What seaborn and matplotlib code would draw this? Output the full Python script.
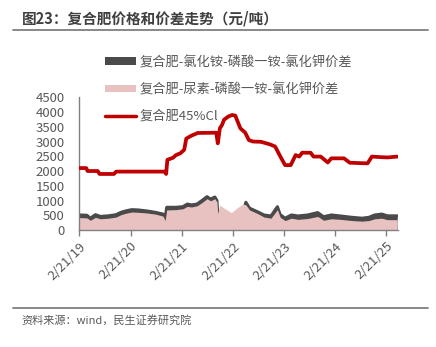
import matplotlib
matplotlib.use("Agg")
import matplotlib.pyplot as plt
from matplotlib.patches import Patch
from matplotlib.lines import Line2D
import pandas as pd
import seaborn as sns

# 复合肥45%Cl 价格（元/吨）
price_dates = [
    "2019-02-21", "2019-04-10", "2019-04-20", "2019-07-01", "2019-07-15", "2019-10-25",
    "2019-11-10", "2020-10-20", "2020-11-01", "2020-11-10", "2020-12-20", "2021-01-10",
    "2021-02-10", "2021-03-10", "2021-03-25", "2021-05-01", "2021-06-15", "2021-10-25",
    "2021-11-05", "2021-11-20", "2021-12-05", "2021-12-20", "2022-01-20", "2022-02-15",
    "2022-03-10", "2022-04-15", "2022-05-20", "2022-06-15", "2022-07-15", "2022-09-10",
    "2022-11-15", "2022-12-20", "2023-01-25", "2023-03-01", "2023-04-10", "2023-05-15",
    "2023-06-10", "2023-07-01", "2023-08-30", "2023-09-20", "2023-11-10", "2023-12-31",
    "2024-01-25", "2024-04-25", "2024-06-05", "2024-10-10", "2024-11-10", "2025-01-15",
    "2025-03-01", "2025-05-10",
]
price_values = [
    2100, 2100, 2000, 2000, 1900, 1900,
    1980, 1980, 1900, 2380, 2450, 2540,
    2600, 2720, 3100, 3200, 3290, 3300,
    2940, 3450, 3560, 3740, 3850, 3900,
    3880, 3450, 3300, 3050, 3000, 2990,
    2900, 2830, 2500, 2200, 2200, 2540,
    2490, 2620, 2620, 2490, 2490, 2290,
    2430, 2430, 2280, 2260, 2490, 2470,
    2460, 2490,
]

# 价差（元/吨）
spread_dates = [
    "2019-02-21", "2019-04-15", "2019-05-10", "2019-06-15", "2019-07-20", "2019-09-15",
    "2019-11-10", "2019-12-15", "2020-01-20", "2020-03-01", "2020-04-15", "2020-06-10",
    "2020-08-15", "2020-10-10", "2020-10-25", "2020-11-05", "2021-01-10", "2021-03-01",
    "2021-04-01", "2021-05-01", "2021-06-10", "2021-07-15", "2021-08-20", "2021-09-15",
    "2021-10-15", "2021-10-30", "2021-11-05", "2021-11-20", "2021-12-20", "2022-02-10",
    "2022-03-20", "2022-05-05", "2022-05-25", "2022-06-20", "2022-08-15", "2022-10-01",
    "2022-11-20", "2023-01-05", "2023-01-25", "2023-03-01", "2023-04-15", "2023-06-01",
    "2023-08-10", "2023-10-20", "2023-12-01", "2024-01-25", "2024-04-01", "2024-06-20",
    "2024-09-01", "2024-10-20", "2024-12-01", "2025-01-20", "2025-03-01", "2025-05-10",
]
spread_nh4cl = [
    510, 500, 400, 520, 460, 480,
    520, 600, 650, 690, 680, 650,
    600, 540, 380, 770, 770, 790,
    880, 850, 880, 1000, 1130, 1050,
    1120, 1000, 560, 600, 500, 450,
    550, 650, 940, 740, 620, 510,
    475, 790, 520, 400, 510, 475,
    510, 590, 450, 510, 475, 430,
    400, 430, 510, 540, 480, 480,
]
spread_urea = [
    420, 410, 330, 430, 380, 400,
    440, 520, 570, 610, 600, 580,
    540, 470, 320, 680, 690, 720,
    800, 780, 820, 930, 1060, 990,
    1060, 950, 560, 850, 740, 590,
    740, 880, 850, 680, 560, 440,
    400, 690, 430, 320, 400, 360,
    390, 460, 330, 380, 360, 320,
    300, 320, 380, 400, 350, 350,
]

tick_dates = ["2019-02-21", "2020-02-21", "2021-02-21", "2022-02-21",
              "2023-02-21", "2024-02-21", "2025-02-21"]
tick_labels = ["2/21/19", "2/21/20", "2/21/21", "2/21/22", "2/21/23", "2/21/24", "2/21/25"]

label_nh4cl = "复合肥-氯化铵-磷酸一铵-氯化钾价差"
label_urea = "复合肥-尿素-磷酸一铵-氯化钾价差"
label_price = "复合肥45%Cl"

price_df = pd.DataFrame({"date": pd.to_datetime(price_dates), "value": price_values})
spread_df = pd.DataFrame({"date": pd.to_datetime(spread_dates),
                          "nh4cl": spread_nh4cl, "urea": spread_urea})

sns.set_theme(style="white")
plt.rcParams["font.family"] = ["Noto Sans CJK SC", "DejaVu Sans"]

RED = "#C00000"
DARK = "#4A4A4A"
PINK = "#E8C1C1"
TEXT = "#595959"

fig = plt.figure(figsize=(4.36, 3.47), dpi=100)
ax = fig.add_axes([0.1823, 0.3372, 0.7294, 0.3824])

ax.fill_between(spread_df["date"], 0, spread_df["nh4cl"], color=DARK, linewidth=0, zorder=1)
sns.lineplot(data=spread_df, x="date", y="nh4cl", ax=ax, color=DARK, linewidth=2.2, zorder=1)
ax.fill_between(spread_df["date"], 0, spread_df["urea"], color=PINK, linewidth=0, zorder=2)
sns.lineplot(data=price_df, x="date", y="value", ax=ax, color=RED, linewidth=2.7, zorder=3)

ax.set_xlim(pd.Timestamp("2019-02-21"), pd.Timestamp("2025-05-12"))
ax.set_ylim(0, 4500)
ax.set_yticks(range(0, 4501, 500))
ax.set_xticks(pd.to_datetime(tick_dates))
ax.set_xticklabels(tick_labels, rotation=45, ha="right", rotation_mode="anchor")
ax.set_xlabel("")
ax.set_ylabel("")

for s in ["top", "right"]:
    ax.spines[s].set_visible(False)
for s in ["left", "bottom"]:
    ax.spines[s].set_color("#808080")
    ax.spines[s].set_linewidth(1.0)

ax.tick_params(axis="x", which="major", direction="out", length=4, width=1.0,
               color="#808080", labelsize=9.5, labelcolor=TEXT, pad=3, bottom=True)
ax.tick_params(axis="y", length=0, labelsize=9.5, labelcolor=TEXT, pad=10.5)

handles = [
    Patch(facecolor=DARK, edgecolor="none"),
    Patch(facecolor=PINK, edgecolor="none"),
    Line2D([0], [0], color=RED, linewidth=2.5),
]
fig.legend(handles, [label_nh4cl, label_urea, label_price],
           loc="upper left", bbox_to_anchor=(0.225, 0.858), bbox_transform=fig.transFigure,
           frameon=False, fontsize=9.5, labelcolor=TEXT, handlelength=2.35,
           handleheight=0.55, handletextpad=0.3, labelspacing=1.05, borderpad=0)

# title, rules and source note
fig.text(0.05, 0.948, "图23：复合肥价格和价差走势（元/吨）", fontsize=10.5,
         fontweight="bold", color="#404040", va="center", ha="left")
fig.add_artist(Line2D([0.03, 0.982], [0.913, 0.913], color="#7F7F7F", linewidth=1.3,
                      transform=fig.transFigure))
fig.add_artist(Line2D([0.03, 0.982], [0.112, 0.112], color="#7F7F7F", linewidth=1.3,
                      transform=fig.transFigure))
fig.text(0.05, 0.078, "资料来源：wind，民生证券研究院", fontsize=8, color=TEXT,
         va="center", ha="left")

fig.savefig("out.png", dpi=100)
